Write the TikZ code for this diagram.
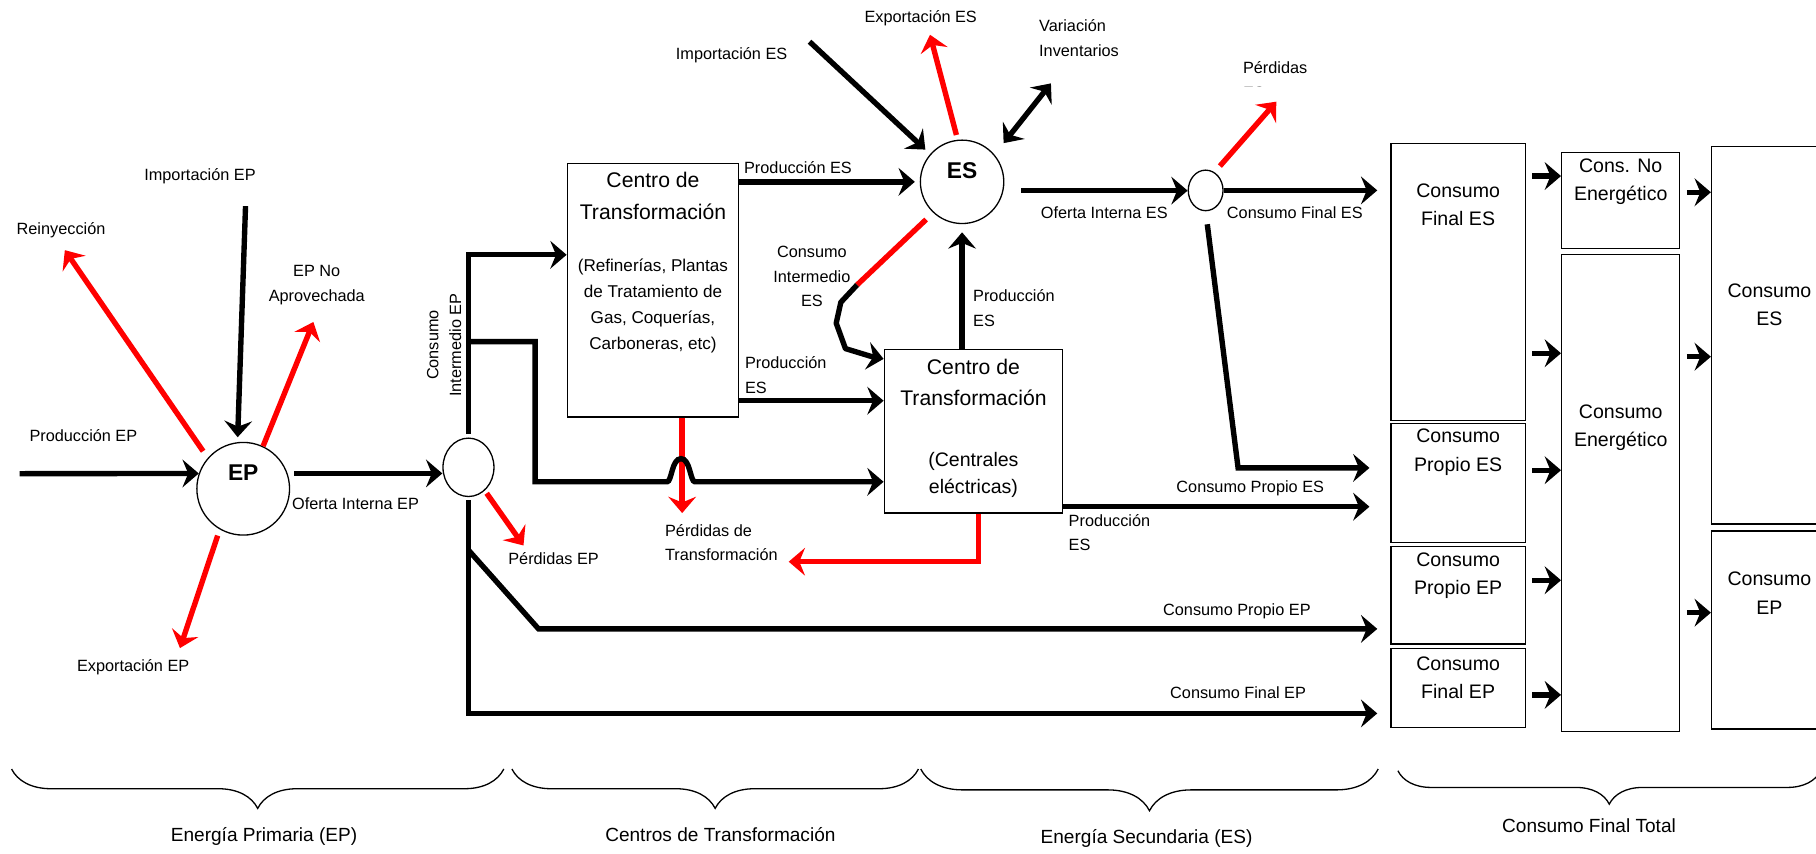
\documentclass[tikz,border=0pt]{standalone}
\usepackage{fontspec}
\setmainfont{Liberation Sans}
\usetikzlibrary{arrows.meta,shapes.geometric,decorations.pathreplacing}
\begin{document}
\begin{tikzpicture}[x=0.025cm,y=-0.025cm,
  >={Stealth[length=10pt,width=17pt,inset=3.5pt]},
  flujo/.style={line width=3.3pt,->},
  perdida/.style={flujo,red},
  caja/.style n args={2}{draw,line width=0.8pt,minimum width=#1*0.025cm,minimum height=#2*0.025cm,inner sep=0pt},
  nodo/.style={draw,ellipse,line width=0.8pt,inner sep=0pt},
  etq/.style={font=\fontsize{10}{15}\selectfont,align=center,inner sep=0pt},
  grande/.style={font=\fontsize{12}{17.5}\selectfont,align=center},
  titulo/.style={font=\fontsize{13}{19.5}\selectfont,align=center},
  negrita/.style={font=\bfseries\fontsize{14}{14}\selectfont},
  llave/.style={decorate,decoration={brace,mirror,amplitude=#1},line width=0.8pt}]
\useasboundingbox (0,0) rectangle (1568,737);

\node[nodo,minimum size=2cm] (ep) at (210,422) {};
\node[nodo,minimum width=1.1cm,minimum height=1.26cm] (epmix) at (404.5,403.5) {};
\node[nodo,minimum size=1.8cm] (es) at (830.7,157) {};
\node[nodo,minimum width=0.75cm,minimum height=0.875cm] (esmix) at (1041,164.4) {};
\node[negrita] (tep) at (210,408) {EP};
\node[negrita] (tes) at (830.7,147) {ES};

\node[caja={148}{219}] (ct1) at (563.8,250.5) {};
\node[caja={154}{141}] (ct2) at (840.5,372.5) {};
\node[caja={116}{239}] (cfes) at (1259,243.4) {};
\node[caja={116}{103}] (cpes) at (1259,417.1) {};
\node[caja={116}{84}] (cpep) at (1259,514) {};
\node[caja={116}{68}] (cfep) at (1259,594) {};
\node[caja={102}{83}] (cne) at (1399.4,173.2) {};
\node[caja={102}{412}] (cen) at (1399.4,425.8) {};
\node[caja={100}{326}] (ces) at (1527.8,289.5) {};
\node[caja={100}{171}] (cep) at (1527.8,544) {};

\node[titulo] (tct1) at (563.8,169) {Centro de\\Transformación};
\node[font=\fontsize{10.5}{16}\selectfont,align=center] (dct1) at (563.8,264) {(Refinerías, Plantas\\de Tratamiento de\\Gas, Coquerías,\\Carboneras, etc)};
\node[titulo] (tct2) at (840.5,330.3) {Centro de\\Transformación};
\node[font=\fontsize{12}{16.4}\selectfont,align=center] (dct2) at (840.5,410) {(Centrales\\eléctricas)};
\foreach \c/\y/\t in {cfes/177/Consumo\\Final ES,cpes/390.5/Consumo\\Propio ES,cpep/497/Consumo\\Propio EP,cfep/585/Consumo\\Final EP,cne/157/Cons. No\\Energético,cen/369.5/Consumo\\Energético,ces/263/Consumo\\ES,cep/512/Consumo\\EP}
  \node[grande] (t\c) at (\c |- 0,\y) {\t};

\node[etq] (lprodep) at (72,376.5) {Producción EP};
\node[etq] (limpep) at (172.7,152) {Importación EP};
\node[etq] (lreiny) at (52.7,199) {Reinyección};
\node[etq] (lnoaprov) at (273.5,246) {EP No\\Aprovechada};
\node[etq] (lexpep) at (115,576.4) {Exportación EP};
\node[etq] (lofep) at (307,435) {Oferta Interna EP};
\node[etq,font=\fontsize{10}{14}\selectfont,rotate=90] (lciep) at (383.5,298) {Consumo\\Intermedio EP};
\node[etq] (lperdep) at (478,482) {Pérdidas EP};
\node[etq] (lprodes1) at (689,145) {Producción ES};
\node[etq,align=left,anchor=west] (lprodes2) at (643,324) {Producción\\ES};
\node[etq,align=left,anchor=west] (lperdtr) at (574,468.5) {Pérdidas de\\Transformación};
\node[etq] (lcies) at (701,239) {Consumo\\Intermedio\\ES};
\node[etq] (limpes) at (631.7,47.5) {Importación ES};
\node[etq] (lexpes) at (795,15.8) {Exportación ES};
\node[etq,align=left,anchor=west] (lvar) at (897,33) {Variación\\Inventarios};
\node[etq,align=left,anchor=west] (lprodes3) at (840,266) {Producción\\ES};
\node[etq] (lofes) at (953.5,184) {Oferta Interna ES};
\node[etq] (lcfes) at (1118,184) {Consumo Final ES};
\node[etq] (lcpes) at (1079.5,421.7) {Consumo Propio ES};
\node[etq,align=left,anchor=west] (lprodes4) at (922.5,460) {Producción\\ES};
\node[etq] (lcpep) at (1068,527.4) {Consumo Propio EP};
\node[etq] (lcfep) at (1069,597.8) {Consumo Final EP};
\begin{scope}
\clip (1060,40) rectangle (1140,75);
\node[etq,align=left,anchor=west] (lperdes) at (1073,69) {Pérdidas\\ES};
\end{scope}

\coordinate (iprodep) at (17,409);
\coordinate (iimpep) at (212,178);
\coordinate (oreiny) at (56,216);
\coordinate (onoaprov) at (270.6,278);
\coordinate (oexpep) at (155.4,559.6);
\coordinate (operdep) at (452,471);
\coordinate (operdtr) at (589,443);
\coordinate (operdtr2) at (681,485);
\coordinate (iimpes) at (699,36);
\coordinate (oexpes) at (803,30);
\coordinate (ovar) at (907.4,72);
\coordinate (operdes) at (1102,87.8);
\coordinate (ci2) at (740,246);
\coordinate (codo) at (1069,404);

\draw[flujo] (iprodep) -- (ep.161);
\draw[flujo,shorten >=3pt] (iimpep) -- (ep.97);
\draw[perdida,shorten <=5pt] (ep.139) -- (oreiny);
\draw[perdida] (ep.65) -- (onoaprov);
\draw[perdida,shorten <=4pt] (ep.240) -- (oexpep);
\draw[flujo,shorten <=4pt] (ep.19) -- (ep.19 -| epmix.west);
\draw[perdida,shorten <=2pt] (epmix.305) -- (operdep);
\draw[flujo,shorten <=2pt] (epmix.north) |- (ct1.west |- 0,220);
\draw[perdida] (ct1.south -| operdtr) -- (operdtr);
\draw[flujo] (epmix.north |- 0,295) -| (462,416) -- (576,416) .. controls (580,416) and (580,396) .. (588,396) .. controls (596,396) and (596,416) .. (600,416) -- (ct2.west |- 0,416);
\draw[flujo,shorten <=2pt,shorten >=8pt] (epmix.south) |- (cfep.west |- 0,616);
\draw[flujo,shorten >=8pt] (epmix.south |- 0,475) -- (465,543) -- (cpep.west |- 0,543);

\draw[flujo,shorten >=3pt] (ct1.east |- es.west) -- (es.west);
\draw[flujo] (ct1.east |- 0,346) -- (ct2.west |- 0,346);
\draw[flujo,shorten >=4pt] (iimpes) -- (es.139);
\draw[perdida,shorten <=3pt] (es.96) -- (oexpes);
\draw[line width=3.3pt,<->,shorten <=9pt] (es.40) -- (ovar);
\draw[red,line width=3.3pt,shorten <=6pt] (es.227) -- (ci2);
\draw[flujo,line join=round] (ci2) -- (726,261) -- (722,279) -- (730,301) -- (753,308) -- ([yshift=-6pt]ct2.north west);
\draw[flujo,shorten >=5pt] (es.south |- ct2.north) -- (es.south);
\draw[perdida] ([xshift=3pt]ct2.south) |- (operdtr2);
\draw[flujo,shorten >=12.8pt] (ct2.east |- 0,437.5) -- (cpes.west |- 0,437.5);
\draw[flujo,shorten <=11pt] (es.348) -- (es.348 -| esmix.west);
\draw[perdida,shorten <=5pt] (esmix.64) -- (operdes);
\draw[flujo,shorten >=8pt] (esmix.east) -- (esmix.east -| cfes.west);
\draw[flujo,shorten <=8pt,shorten >=12.8pt] (esmix.south) -- (codo) -- (codo -| cpes.west);

\foreach \a/\b/\y in {cfes/cne/152,cfes/cen/305,cpes/cen/406,cpep/cen/501,cfep/cen/600,cne/ces/166,cen/ces/308,cen/cep/529}
  \draw[flujo,shorten <=4pt] (\a.east |- 0,\y) -- (\b.west |- 0,\y);

\draw[llave=0.85cm] (10,664) -- (435,664);
\draw[llave=0.85cm] (442,664) -- (793,664);
\draw[llave=0.9cm] (795,664) -- (1190,664);
\draw[llave=0.72cm] (1207,665.5) -- (1572,665.5);
\foreach \n/\x/\y/\t in {lep/228/722.5/Energía Primaria (EP),lct/622/721/Centros de Transformación,les/990/724/Energía Secundaria (ES),lcft/1372/713/Consumo Final Total}
  \node[font=\fontsize{11.7}{14}\selectfont] (\n) at (\x,\y) {\t};
\end{tikzpicture}
\end{document}
